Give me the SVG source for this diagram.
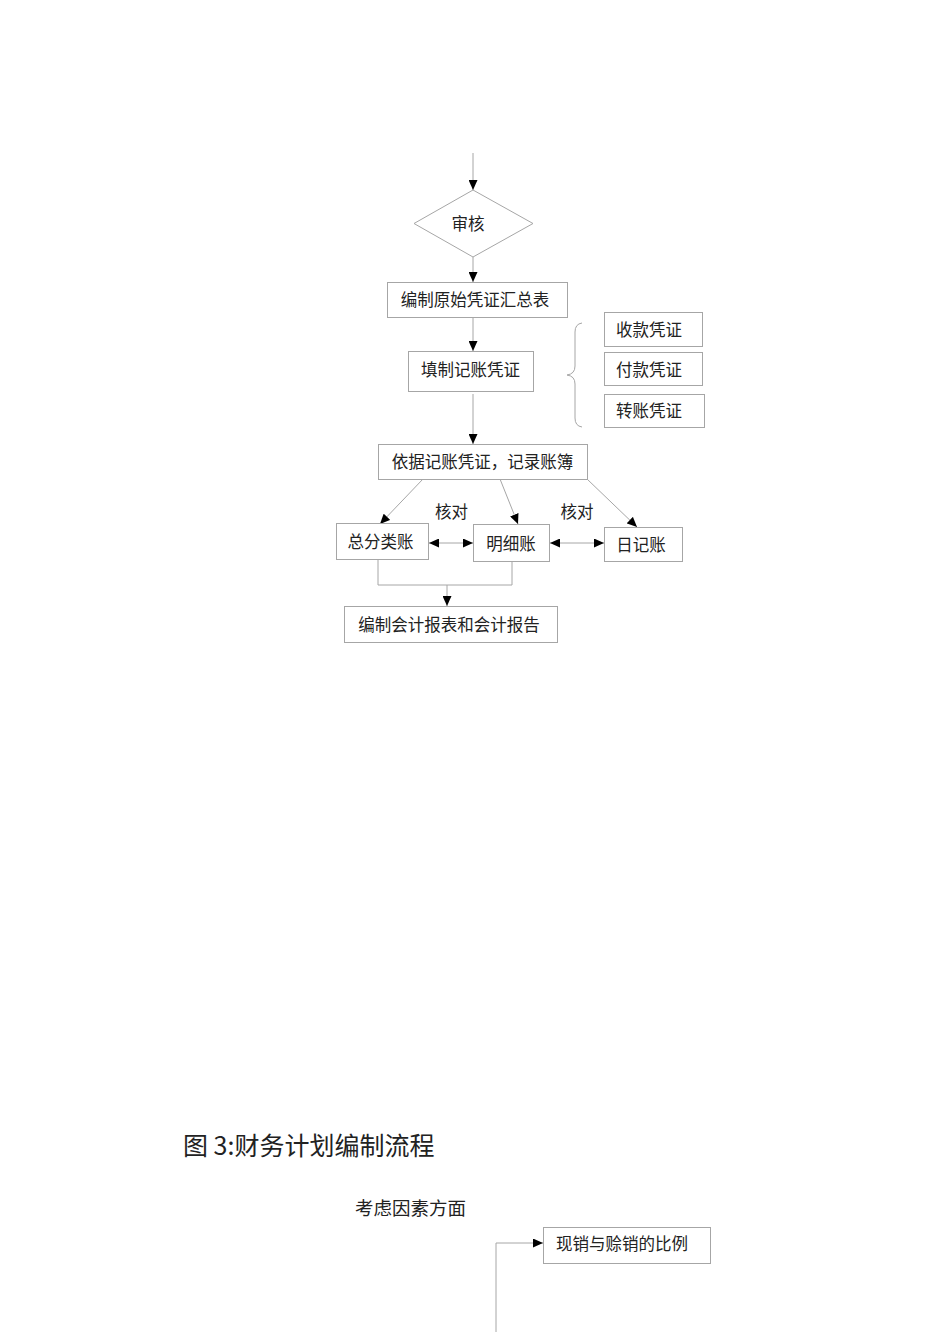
<svg xmlns="http://www.w3.org/2000/svg" width="950" height="1344" viewBox="0 0 950 1344">
<style>
.box{fill:#fff;stroke:#a6a6a6;stroke-width:1}
.ln{fill:none;stroke:#a6a6a6;stroke-width:1}
.t{font-family:"Noto Sans CJK SC","Liberation Sans",sans-serif;font-size:16.5px;fill:#222;text-anchor:middle}
.tl{font-family:"Noto Sans CJK SC","Liberation Sans",sans-serif;fill:#222}
</style>
<defs>
<marker id="ah" markerUnits="userSpaceOnUse" markerWidth="10" markerHeight="9" refX="10" refY="4.5" orient="auto-start-reverse" viewBox="0 0 10 9">
<path d="M0,0 L10,4.5 L0,9 z" fill="#000"/>
</marker>
</defs>
<rect width="950" height="1344" fill="#fff"/>
<g id="connectors">
<line class="ln" x1="473" y1="153" x2="473" y2="190" marker-end="url(#ah)"/>
<line class="ln" x1="473" y1="257" x2="473" y2="282" marker-end="url(#ah)"/>
<line class="ln" x1="473" y1="317" x2="473" y2="351" marker-end="url(#ah)"/>
<line class="ln" x1="473" y1="394" x2="473" y2="444" marker-end="url(#ah)"/>
<line class="ln" x1="423" y1="479" x2="380" y2="524" marker-end="url(#ah)"/>
<line class="ln" x1="500" y1="479" x2="518" y2="524" marker-end="url(#ah)"/>
<line class="ln" x1="587" y1="479" x2="637" y2="527" marker-end="url(#ah)"/>
<line class="ln" x1="429" y1="543" x2="473" y2="543" marker-start="url(#ah)" marker-end="url(#ah)"/>
<line class="ln" x1="550" y1="543" x2="604" y2="543" marker-start="url(#ah)" marker-end="url(#ah)"/>
<polyline class="ln" points="378,559 378,585 512,585 512,561"/>
<line class="ln" x1="447" y1="585" x2="447" y2="606" marker-end="url(#ah)"/>
<path class="ln" d="M582,323 Q575,324 575,332 L575,366 Q575,374 567,375 Q575,376 575,384 L575,418 Q575,426 582,427"/>
<polyline class="ln" points="496,1332 496,1243 543,1243" marker-end="url(#ah)"/>
</g>
<g id="n-shenhe">
<polygon class="box" points="473,190 533,223.5 473,257 414,223.5"/>
<text class="t" x="468" y="230">审核</text>
</g>
<g id="n-huizong">
<rect class="box" x="387.5" y="282.5" width="180" height="35"/>
<text class="t" x="475" y="306">编制原始凭证汇总表</text>
</g>
<g id="n-tianzhi">
<rect class="box" x="408.5" y="351.5" width="125" height="40"/>
<text class="t" x="470.5" y="376">填制记账凭证</text>
</g>
<g id="n-shoukuan">
<rect class="box" x="604.5" y="312.5" width="98" height="34"/>
<text class="t" x="649" y="336">收款凭证</text>
</g>
<g id="n-fukuan">
<rect class="box" x="604.5" y="352.5" width="98" height="33"/>
<text class="t" x="649" y="376">付款凭证</text>
</g>
<g id="n-zhuanzhang">
<rect class="box" x="604.5" y="394.5" width="100" height="33"/>
<text class="t" x="649" y="417">转账凭证</text>
</g>
<g id="n-yiju">
<rect class="box" x="378.5" y="444.5" width="209" height="35"/>
<text class="t" x="482.5" y="468">依据记账凭证，记录账簿</text>
</g>
<g id="n-zongfenlei">
<rect class="box" x="336.5" y="523.5" width="92" height="36"/>
<text class="t" x="380.5" y="548">总分类账</text>
</g>
<g id="n-mingxi">
<rect class="box" x="473.5" y="524.5" width="76" height="37"/>
<text class="t" x="511" y="550">明细账</text>
</g>
<g id="n-riji">
<rect class="box" x="604.5" y="527.5" width="78" height="34"/>
<text class="t" x="641" y="551">日记账</text>
</g>
<g id="labels">
<text class="t" x="451.5" y="518">核对</text>
<text class="t" x="577" y="518">核对</text>
</g>
<g id="n-baobiao">
<rect class="box" x="344.5" y="606.5" width="213" height="36"/>
<text class="t" x="449" y="631">编制会计报表和会计报告</text>
</g>
<text class="tl" x="183" y="1155" font-size="25">图 3:财务计划编制流程</text>
<text class="tl" x="355" y="1215" font-size="18.5">考虑因素方面</text>
<g id="n-xianxiao">
<rect class="box" x="543.5" y="1227.5" width="167" height="36"/>
<text class="t" x="622" y="1250">现销与赊销的比例</text>
</g>
</svg>
